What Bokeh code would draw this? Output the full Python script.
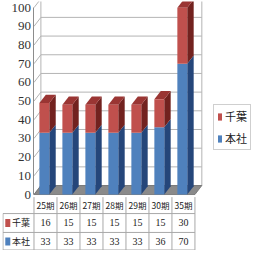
import numpy as np
from bokeh.plotting import figure
from bokeh.models import (Range1d, LinearAxis, FixedTicker, Legend, LegendItem)
from bokeh.core.properties import value
from bokeh.embed import file_html
from bokeh.resources import INLINE

# ---- data ----
cats = ["25期", "26期", "27期", "28期", "29期", "30期", "35期"]
chiba = [16, 15, 15, 15, 15, 15, 30]
honsha = [33, 33, 33, 33, 33, 36, 70]
series_names = ["千葉", "本社"]
yticks = list(range(0, 101, 10))

# ---- styles / geometry ----
RED, RED_SIDE, RED_TOP = "#C0504D", "#72221F", "#9A3533"
BLUE, BLUE_SIDE = "#4F81BD", "#25467A"
GRID = "#B4B4B4"
TBL = "#A8A8A8"
FONT = "Noto Sans CJK JP"
W = 0.43      # bar front width (category units)
BDX, BDY = 0.28, 4.4   # bar depth offset
WDX, WDY = 0.30, 4.8   # wall depth offset
XL, XR = -0.5, len(cats) - 0.5

p = figure(width=251, height=250, output_backend="svg", toolbar_location=None,
           x_range=Range1d(-1.87, 8.96), y_range=Range1d(-29.96, 103.3),
           x_axis_type=None, y_axis_type=None,
           min_border_left=2, min_border_right=0, min_border_top=1,
           min_border_bottom=0, outline_line_color=None)
p.xgrid.visible = False
p.ygrid.visible = False

# ---- walls ----
yt = np.array(yticks, dtype=float)
p.segment(x0=[XL + WDX] * len(yt), y0=yt + WDY, x1=[XR + WDX] * len(yt), y1=yt + WDY,
          line_color=GRID, line_width=1)
p.segment(x0=[XL] * len(yt), y0=yt, x1=[XL + WDX] * len(yt), y1=yt + WDY,
          line_color=GRID, line_width=1)
p.segment(x0=[XL + WDX, XR + WDX], y0=[WDY, WDY], x1=[XL + WDX, XR + WDX],
          y1=[yt[-1] + WDY, yt[-1] + WDY], line_color=GRID, line_width=1)
p.patch(x=[XL, XR, XR + WDX, XL + WDX], y=[0, 0, WDY, WDY],
        fill_color="#8A8A8A", line_color="#6E6E6E", line_width=0.8)

# ---- y axis ----
ax = LinearAxis(fixed_location=XL, ticker=FixedTicker(ticks=yticks), bounds=(0, 100))
ax.axis_line_color = "#8C8C8C"
ax.major_tick_out = 0
ax.major_tick_in = 0
ax.minor_tick_line_color = None
ax.major_label_standoff = 3
ax.major_label_text_font = "Liberation Sans Narrow"
ax.major_label_text_font_size = "13px"
ax.major_label_text_color = "#333333"
p.add_layout(ax, "left")

# ---- 3D stacked bars ----
idx = np.arange(len(cats), dtype=float)
hb = np.array(honsha, dtype=float)
tot = hb + np.array(chiba, dtype=float)
left = idx - 0.05 - W / 2
right = idx - 0.05 + W / 2

p.patches(xs=[[r, r + BDX, r + BDX, r] for r in right],
          ys=[[0, BDY, h + BDY, h] for h in hb],
          fill_color=BLUE_SIDE, line_color=None)
p.patches(xs=[[r, r + BDX, r + BDX, r] for r in right],
          ys=[[h, h + BDY, t + BDY, t] for h, t in zip(hb, tot)],
          fill_color=RED_SIDE, line_color=None)
p.patches(xs=[[l, r, r + BDX, l + BDX] for l, r in zip(left, right)],
          ys=[[t, t, t + BDY, t + BDY] for t in tot],
          fill_color=RED_TOP, line_color=None)
r_blue = p.quad(left=left, right=right, bottom=0, top=hb,
                fill_color=BLUE, line_color=None)
r_red = p.quad(left=left, right=right, bottom=hb, top=tot,
               fill_color=RED, line_color=None)

# ---- data table ----
Y_HEAD, Y_L1, Y_R1, Y_L2, Y_R2, Y_BOT = -5.35, -10.2, -15.2, -20.3, -25.1, -29.7
TX0 = -1.85
p.segment(x0=[TX0] * 3, y0=[Y_L1, Y_L2, Y_BOT], x1=[XR] * 3, y1=[Y_L1, Y_L2, Y_BOT],
          line_color=TBL, line_width=1)
vx = np.arange(len(cats) + 1) - 0.5
p.segment(x0=vx, y0=[-1.4] * len(vx), x1=vx, y1=[Y_BOT] * len(vx),
          line_color=TBL, line_width=1)
p.segment(x0=[TX0], y0=[Y_L1], x1=[TX0], y1=[Y_BOT], line_color=TBL, line_width=1)

p.text(x=idx, y=[Y_HEAD] * len(cats), text=cats, text_align="center",
       text_baseline="middle", text_font=value(FONT), text_font_size="8.5px",
       text_color="#222222")
p.text(x=idx, y=[Y_R1] * len(cats), text=[str(v) for v in chiba], text_align="center",
       text_baseline="middle", text_font=value("Liberation Sans Narrow"),
       text_font_size="10px", text_color="#222222")
p.text(x=idx, y=[Y_R2] * len(cats), text=[str(v) for v in honsha], text_align="center",
       text_baseline="middle", text_font=value("Liberation Sans Narrow"),
       text_font_size="10px", text_color="#222222")
p.rect(x=[-1.64, -1.64], y=[Y_R1, Y_R2], width=5, height=8, width_units="screen",
       height_units="screen", fill_color=[RED, BLUE], line_color=None)
p.text(x=[-1.46, -1.46], y=[Y_R1, Y_R2], text=series_names, text_align="left",
       text_baseline="middle", text_font=value(FONT), text_font_size="9px",
       text_color="#222222")

# ---- legend ----
legend = Legend(items=[LegendItem(label=series_names[0], renderers=[r_red]),
                       LegendItem(label=series_names[1], renderers=[r_blue])],
                location=(211, 100), orientation="vertical",
                label_text_font=FONT, label_text_font_size="11px",
                label_text_color="#222222",
                glyph_width=5, glyph_height=9, label_standoff=3,
                padding=3, spacing=6, margin=0,
                border_line_color="#A0A0A0", border_line_width=1,
                background_fill_color="white")
p.add_layout(legend, "center")

open("out.html", "w").write(file_html(p, INLINE))
